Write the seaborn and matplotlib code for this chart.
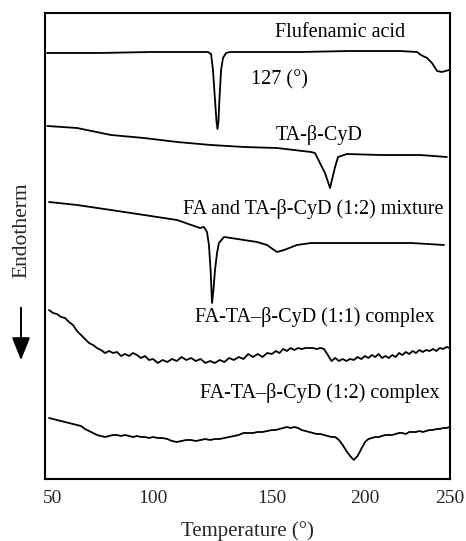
import numpy as np
import pandas as pd
import matplotlib
matplotlib.use("Agg")
import matplotlib.pyplot as plt
import seaborn as sns

# ---------------- data (temperature in deg, signal in arbitrary units) ----------------
fa_T = [47, 73.5, 98.5, 119.7, 123.1, 124.4, 125.2, 126.05, 126.7, 127.1, 127.5, 127.9,
        128.6, 129.4, 130.7, 132.4, 165.1, 191.9, 220.6, 230.6, 232.9, 236.5, 239.4,
        242.4, 245.3, 249.4]
fa_S = [426, 426, 427, 427, 427, 425, 409, 379, 357, 350, 357, 379,
        409, 421, 426, 427, 427, 428, 428, 427, 424, 421, 416,
        408, 407, 409]

ta_T = [47.15, 62, 79, 95.5, 110.1, 124.4, 138.2, 152.7, 171, 173.1, 175.8, 178.5,
        181.2, 183.9, 185.5, 190.3, 208.8, 232.4, 248.2]
ta_S = [353, 351, 344, 341, 337, 334, 332, 331, 327, 326, 316, 306,
        291, 312, 322, 325, 324, 324, 322]

mix_T = [48, 62, 79, 95.5, 110.1, 119.7, 121.4, 122.7, 123.5, 124.2, 124.8, 125.4,
         126.05, 126.9, 127.7, 129.8, 132.8, 138.2, 143.7, 147.9, 151.1, 152.7, 156.5,
         163.4, 171, 188.7, 207.1, 227.1, 246.5]
mix_S = [277, 274, 269, 264, 259, 251, 252, 247, 234, 209, 176, 189,
         209, 226, 236, 242, 241, 239, 237, 234, 229, 227, 229,
         234, 236, 236, 236, 236, 234]

cx_T = list(range(48, 251, 2))
c11_S = [169, 166, 165, 162, 161, 157, 154, 148, 144, 140, 136, 134, 131, 129, 126, 128,
         126, 127, 123, 125, 123, 126, 124, 121, 123, 119, 120, 116, 119, 117, 120, 118,
         122, 119, 121, 118, 120, 116, 118, 116, 119, 117, 121, 119, 122, 120, 125, 122,
         125, 122, 126, 125, 128, 126, 130, 128, 131, 129, 131, 130, 131, 131, 131, 130,
         131, 130, 124, 118, 121, 118, 120, 118, 120, 119, 122, 120, 123, 121, 124, 122,
         125, 121, 123, 121, 124, 122, 126, 124, 127, 125, 128, 126, 129, 127, 129, 128,
         130, 128, 131, 130, 132, 131]
c12_S = [61, 60, 59, 58, 57, 56, 55, 54, 53, 50, 48, 46, 44, 43, 42, 43,
         44, 44, 43, 44, 43, 42, 43, 42, 42, 41, 42, 41, 41, 40, 38, 37,
         38, 39, 39, 38, 39, 40, 39, 40, 40, 41, 42, 43, 44, 46, 46, 46,
         47, 47, 48, 49, 49, 50, 51, 52, 51, 52, 51, 49, 48, 47, 46, 45,
         45, 44, 43, 42, 42, 39, 34, 28, 23, 19, 23, 30, 37, 40, 41, 42,
         42, 43, 44, 44, 44, 45, 46, 46, 45, 47, 47, 47, 48, 47, 48, 49,
         49, 50, 50, 51, 51, 52]

series_names = ["Flufenamic acid", "TA-β-CyD", "FA and TA-β-CyD (1:2) mixture",
                "FA-TA–β-CyD (1:1) complex", "FA-TA–β-CyD (1:2) complex"]
labels_extra = "127 (°)"
tick_vals = [50, 100, 150, 200, 250]
tick_labels = ["50", "100", "150", "200", "250"]

# ---------------- figure ----------------
sns.set_style("white")
plt.rcParams["font.family"] = ["Liberation Serif", "DejaVu Serif"]

W, H = 466, 541
fig = plt.figure(figsize=(W / 100, H / 100), dpi=100)
ax = fig.add_axes([45 / W, (H - 479) / H, 405 / W, 466 / H])

# piecewise axis scale reproducing the printed tick spacing
kT = [46, 50, 100, 150, 200, 250]
kP = [45, 53, 153, 272, 365, 450]


def fwd(x):
    return np.interp(x, kT, kP)


def inv(p):
    return np.interp(p, kP, kT)


ax.set_xscale("function", functions=(fwd, inv))

data = [(fa_T, fa_S), (ta_T, ta_S), (mix_T, mix_S), (cx_T, c11_S), (cx_T, c12_S)]
for (t, s), name in zip(data, series_names):
    df = pd.DataFrame({"T": t, "S": s})
    sns.lineplot(data=df, x="T", y="S", ax=ax, color="black", lw=1.3,
                 estimator=None, sort=True)

ax.set_xlim(46, 250)
ax.set_ylim(0, 466)
ax.set_xticks(tick_vals)
ax.set_xticklabels(tick_labels)
ax.set_yticks([])
ax.tick_params(axis="x", length=0, labelsize=14, pad=8)
ax.set_xlabel("Temperature (°)", fontsize=15, labelpad=10)
ax.set_ylabel("")
for sp in ax.spines.values():
    sp.set_color("black")
    sp.set_linewidth(1.5)

tk = dict(fontsize=14.5, color="black", transform=ax.transAxes, va="center")
ax.text(0.729, 0.959, series_names[0], ha="center", **tk)
ax.text(0.580, 0.856, labels_extra, ha="center", **tk)
ax.text(0.677, 0.738, series_names[1], ha="center", **tk)
ax.text(0.983, 0.579, series_names[2], ha="right", **tk)
ax.text(0.667, 0.348, series_names[3], ha="center", **tk)
ax.text(0.679, 0.185, series_names[4], ha="center", **tk)

fig.text(22 / W, (H - 230) / H, "Endotherm", rotation=90, ha="center", va="center",
         fontsize=15.5)
fig.patches.append(matplotlib.patches.FancyArrowPatch(
    (21 / W, (H - 305) / H), (21 / W, (H - 363) / H), transform=fig.transFigure,
    arrowstyle="-|>,head_length=1.0,head_width=0.4", mutation_scale=14,
    color="black", lw=1.4))

fig.savefig("out.png", dpi=100)
